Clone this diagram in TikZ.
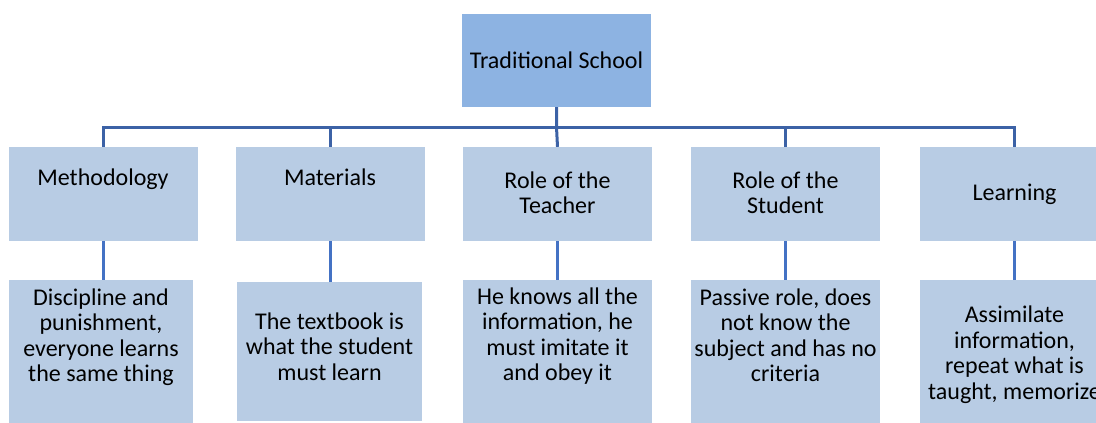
\documentclass[tikz,border=0pt]{standalone}
\usepackage{fontspec}
\setmainfont{Carlito}
\definecolor{topfill}{HTML}{8DB3E2}
\definecolor{boxfill}{HTML}{B8CCE4}
\definecolor{busline}{HTML}{3C62A6}
\definecolor{lowline}{HTML}{4472C4}
\newcommand\mlines[1]{\parbox[t]{230pt}{\centering #1}}
\begin{document}
\begin{tikzpicture}[x=1pt,y=-1pt,
  topbox/.style={fill=topfill, draw=none, minimum width=189pt, minimum height=93pt, inner sep=0pt},
  box/.style={fill=boxfill, draw=none, minimum width=189pt, minimum height=94pt, inner sep=0pt},
  lowbox/.style={fill=boxfill, draw=none, minimum width=189pt, minimum height=143pt, inner sep=0pt},
  txt/.style={anchor=base, inner sep=0pt, font=\fontsize{24}{25.6}\selectfont},
  bus/.style={draw=busline, line width=3pt},
  low/.style={draw=lowline, line width=3pt}]
\path[use as bounding box, clip] (0,0) rectangle (1096,423);
% boxes
\node[topbox] (top) at (556.5,60.5) {};
\node[box] (b1) at (103,194) {};
\node[box] (b2) at (330,194) {};
\node[box] (b3) at (557.5,194) {};
\node[box] (b4) at (785.5,194) {};
\node[box] (b5) at (1014.5,194) {};
\node[lowbox, minimum width=184pt] (c1) at (101,351.5) {};
\node[lowbox, minimum width=185pt, minimum height=139pt] (c2) at (329.5,351.5) {};
\node[lowbox] (c3) at (557.5,351.5) {};
\node[lowbox] (c4) at (785.5,351.5) {};
\node[lowbox] (c5) at (1014.5,351.5) {};
% connectors
\coordinate (busy) at (0,127);
\draw[bus] (b1.north) -- (b1.north |- busy) -- (b5.north |- busy) -- (b5.north);
\draw[bus] (top.south) -- (top.south |- busy) -- (b3.north);
\draw[bus] (b2.north) -- (b2.north |- busy);
\draw[bus] (b4.north) -- (b4.north |- busy);
\draw[low] (b1.south) -- (b1.south |- c1.north);
\draw[low] (b2.south) -- (b2.south |- c2.north);
\draw[low] (b3.south) -- (c3.north);
\draw[low] (b4.south) -- (c4.north);
\draw[low] (b5.south) -- (c5.north);
% texts
\node[txt] (ttop) at (556.5,68) {\mlines{Traditional School}};
\node[txt] (t1) at (103,185) {\mlines{Methodology}};
\node[txt] (t2) at (330,185) {\mlines{Materials}};
\node[txt] (t3) at (557.5,188) {\mlines{Role of the\\Teacher}};
\node[txt] (t4) at (785.5,188) {\mlines{Role of the\\Student}};
\node[txt] (t5) at (1014.5,200.5) {\mlines{Learning}};
\node[txt] (u1) at (101,305) {\mlines{Discipline and\\punishment,\\everyone learns\\the same thing}};
\node[txt] (u2) at (329.5,329) {\mlines{The textbook is\\what the student\\must learn}};
\node[txt] (u3) at (557.5,304) {\mlines{He knows all the\\information, he\\must imitate it\\and obey it}};
\node[txt] (u4) at (785.5,305) {\mlines{Passive role, does\\not know the\\subject and has no\\criteria}};
\node[txt] (u5) at (1014.5,322.7) {\mlines{Assimilate\\information,\\repeat what is\\taught, memorize}};
\end{tikzpicture}
\end{document}
